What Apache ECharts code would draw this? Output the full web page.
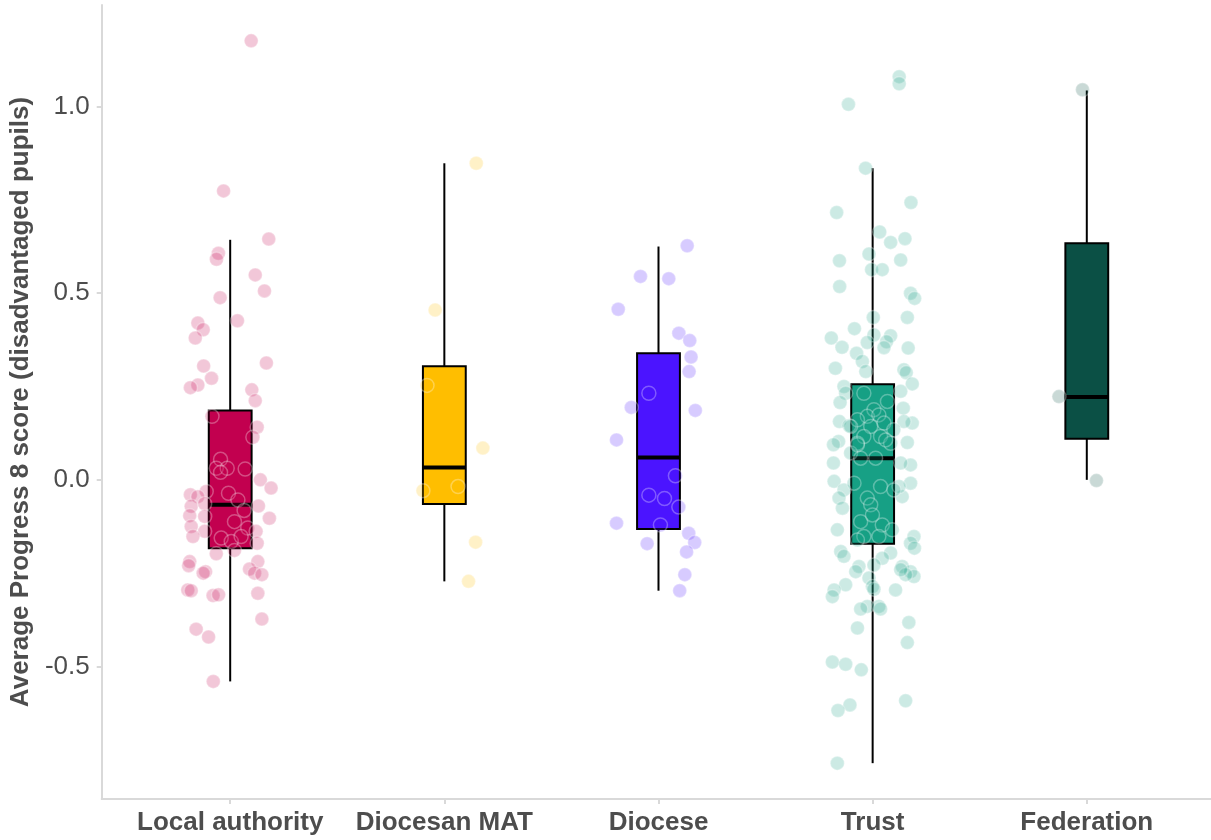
<!DOCTYPE html>
<html>
<head>
<meta charset="utf-8">
<title>Average Progress 8 score by school governance</title>
<script src="https://cdn.jsdelivr.net/npm/echarts@6/dist/echarts.min.js"></script>
<style>
  html, body { margin: 0; padding: 0; background: #ffffff; }
  #chart { width: 1211px; height: 840px; }
</style>
</head>
<body>
<div id="chart"></div>
<script>
// Governance groups along the x axis
const categories = ['Local authority', 'Diocesan MAT', 'Diocese', 'Trust', 'Federation'];

// Y axis tick values
const yTicks = [-0.5, 0, 0.5, 1.0];

// Box statistics per group: [lower whisker, Q1, median, Q3, upper whisker]
const boxLocalAuthority = [-0.540, -0.183, -0.067, 0.186, 0.643];
const boxDiocesanMAT   = [-0.272, -0.065, 0.033, 0.304, 0.848];
const boxDiocese       = [-0.297, -0.132, 0.060, 0.339, 0.625];
const boxTrust         = [-0.759, -0.171, 0.058, 0.256, 0.835];
const boxFederation    = [0.000, 0.110, 0.222, 0.634, 1.043];

// School scores per group, each as [horizontal jitter, score]
const pointsLocalAuthority = [
  [0.098, 1.176], [-0.031, 0.774], [0.180, 0.645], [-0.055, 0.607], [-0.064, 0.591],
  [0.117, 0.549], [0.160, 0.506], [-0.047, 0.488], [0.034, 0.426], [-0.151, 0.420],
  [-0.126, 0.402], [-0.163, 0.380], [0.169, 0.313], [-0.124, 0.305], [-0.087, 0.272],
  [-0.151, 0.254], [-0.186, 0.247], [0.101, 0.241], [0.117, 0.212], [-0.085, 0.170],
  [0.126, 0.141], [0.106, 0.114], [-0.045, 0.055], [-0.065, 0.031], [-0.014, 0.031],
  [0.070, 0.029], [-0.045, 0.020], [0.141, 0.000], [0.191, -0.022], [-0.186, -0.040],
  [-0.112, -0.031], [-0.008, -0.036], [-0.151, -0.045], [0.036, -0.054], [-0.182, -0.071],
  [-0.119, -0.064], [0.132, -0.070], [0.065, -0.082], [-0.189, -0.096], [-0.119, -0.098],
  [0.020, -0.112], [0.183, -0.103], [-0.182, -0.125], [0.082, -0.129], [-0.119, -0.138],
  [-0.174, -0.152], [-0.042, -0.156], [0.005, -0.165], [0.051, -0.152], [0.121, -0.138],
  [0.126, -0.170], [-0.065, -0.198], [0.020, -0.189], [0.129, -0.219], [-0.189, -0.219],
  [-0.194, -0.230], [-0.115, -0.246], [-0.126, -0.250], [0.090, -0.239], [0.114, -0.250],
  [0.148, -0.254], [-0.198, -0.295], [-0.182, -0.297], [-0.080, -0.310], [-0.054, -0.308],
  [0.129, -0.304], [0.148, -0.373], [-0.159, -0.400], [-0.101, -0.421], [-0.079, -0.540]
];

const pointsDiocesanMAT = [
  [0.149, 0.848], [-0.043, 0.455], [-0.081, 0.253], [0.180, 0.085],
  [-0.100, -0.029], [0.064, -0.018], [0.146, -0.167], [0.113, -0.272]
];

const pointsDiocese = [
  [0.134, 0.627], [-0.084, 0.545], [0.048, 0.539], [-0.188, 0.457], [0.095, 0.393],
  [0.146, 0.373], [0.152, 0.329], [0.143, 0.290], [-0.045, 0.232], [-0.127, 0.194],
  [0.172, 0.186], [-0.196, 0.107], [0.079, 0.011], [-0.045, -0.041], [0.028, -0.050],
  [0.095, -0.073], [-0.196, -0.116], [0.009, -0.121], [0.141, -0.143], [-0.053, -0.171],
  [0.169, -0.168], [0.131, -0.193], [0.123, -0.254], [0.099, -0.297]
];

const pointsTrust = [
  [0.124, 1.080], [0.124, 1.061], [-0.113, 1.006], [-0.033, 0.835], [0.179, 0.743],
  [-0.168, 0.716], [0.033, 0.664], [0.151, 0.646], [0.084, 0.636], [-0.155, 0.587],
  [-0.017, 0.605], [0.131, 0.589], [-0.005, 0.563], [0.045, 0.563], [-0.154, 0.518],
  [0.177, 0.500], [0.196, 0.486], [0.003, 0.435], [0.162, 0.435], [-0.085, 0.405],
  [-0.193, 0.380], [0.006, 0.388], [0.084, 0.386], [0.065, 0.370], [-0.025, 0.368],
  [-0.143, 0.355], [0.053, 0.354], [0.166, 0.353], [-0.075, 0.339], [-0.048, 0.317],
  [-0.174, 0.299], [-0.032, 0.290], [0.146, 0.295], [0.157, 0.287], [0.185, 0.257],
  [-0.134, 0.250], [-0.126, 0.232], [0.131, 0.237], [-0.152, 0.207], [0.143, 0.192],
  [-0.155, 0.156], [0.185, 0.152], [0.146, 0.156], [-0.110, 0.145], [-0.159, 0.103],
  [-0.183, 0.094], [0.162, 0.100],
  [-0.041, 0.232], [0.069, 0.210], [0.006, 0.188], [-0.025, 0.170], [0.029, 0.174],
  [-0.071, 0.161], [0.053, 0.152], [-0.009, 0.143], [-0.103, 0.143], [0.099, 0.134],
  [-0.041, 0.116], [0.037, 0.116], [-0.071, 0.098], [0.084, 0.098], [-0.103, 0.072],
  [-0.183, 0.045], [-0.180, -0.004], [-0.134, -0.027], [-0.157, -0.049], [-0.141, -0.076],
  [-0.165, -0.134], [-0.149, -0.192], [-0.134, -0.205], [-0.064, -0.232], [-0.079, -0.246],
  [-0.126, -0.281], [-0.180, -0.295], [-0.188, -0.313], [-0.017, -0.263], [-0.001, -0.286],
  [-0.025, -0.339], [0.029, -0.339],
  [0.177, 0.040], [0.131, 0.045], [0.177, -0.009], [0.138, -0.045], [0.123, -0.018],
  [0.193, -0.152], [0.177, -0.170], [0.195, -0.183], [0.138, -0.232], [0.177, -0.246],
  [0.193, -0.259], [0.154, -0.254], [0.107, -0.295], [0.084, -0.196], [0.045, -0.210],
  [0.006, -0.228], [0.131, -0.241],
  [-0.071, 0.094], [0.061, 0.107], [0.014, 0.058], [-0.056, 0.058], [-0.087, -0.009],
  [0.037, -0.018], [0.099, -0.027], [-0.025, -0.049], [-0.009, -0.067], [-0.056, -0.112],
  [0.045, -0.121], [-0.001, -0.094], [0.092, -0.134], [-0.041, -0.152], [0.029, -0.152],
  [-0.071, -0.161],
  [-0.056, -0.346], [0.037, -0.346], [0.169, -0.382], [-0.071, -0.397], [0.162, -0.436],
  [-0.188, -0.488], [-0.126, -0.494], [-0.053, -0.509], [0.154, -0.592], [-0.106, -0.603],
  [-0.162, -0.618], [-0.165, -0.759], [0.006, -0.293]
];

const pointsFederation = [
  [-0.020, 1.045], [-0.130, 0.223], [0.045, -0.002]
];

// Group fill colours
const groupColors = ['#C2004F', '#FFBE00', '#4B14FF', '#17A085', '#0B5045'];

const boxes = [boxLocalAuthority, boxDiocesanMAT, boxDiocese, boxTrust, boxFederation];
const pointSets = [pointsLocalAuthority, pointsDiocesanMAT, pointsDiocese, pointsTrust, pointsFederation];

const FONT = "'Liberation Sans', Arial, Helvetica, sans-serif";
const TEXT_GREY = '#4d4d4d';
const AXIS_GREY = '#d9d9d9';
const BOX_HALF_WIDTH = 0.1;   // half box width, in category units

function hexToRgba(hex, a) {
  const n = parseInt(hex.slice(1), 16);
  return 'rgba(' + ((n >> 16) & 255) + ',' + ((n >> 8) & 255) + ',' + (n & 255) + ',' + a + ')';
}

// Box and whisker drawn through the cartesian coordinate system
function renderBox(params, api) {
  const x = api.value(0);
  const pLow = api.coord([x, api.value(1)]);
  const pQ1 = api.coord([x, api.value(2)]);
  const pMed = api.coord([x, api.value(3)]);
  const pQ3 = api.coord([x, api.value(4)]);
  const pHigh = api.coord([x, api.value(5)]);
  const left = api.coord([x - BOX_HALF_WIDTH, 0])[0];
  const right = api.coord([x + BOX_HALF_WIDTH, 0])[0];
  const color = groupColors[params.dataIndex];
  const black = '#000000';
  return {
    type: 'group',
    children: [
      { type: 'line', shape: { x1: pHigh[0], y1: pHigh[1], x2: pQ3[0], y2: pQ3[1] },
        style: { stroke: black, lineWidth: 2 } },
      { type: 'line', shape: { x1: pQ1[0], y1: pQ1[1], x2: pLow[0], y2: pLow[1] },
        style: { stroke: black, lineWidth: 2 } },
      { type: 'rect', shape: { x: left, y: pQ3[1], width: right - left, height: pQ1[1] - pQ3[1] },
        style: { fill: color, stroke: black, lineWidth: 2 } },
      { type: 'line', shape: { x1: left, y1: pMed[1], x2: right, y2: pMed[1] },
        style: { stroke: black, lineWidth: 4 } }
    ]
  };
}

const boxData = boxes.map((b, i) => [i + 1].concat(b));

const scatterSeries = pointSets.map((pts, i) => ({
  type: 'scatter',
  name: categories[i],
  z: 5,
  symbol: 'circle',
  symbolSize: 14,
  silent: true,
  itemStyle: {
    color: hexToRgba(groupColors[i], 0.22),
    borderColor: 'rgba(255,255,255,0.3)',
    borderWidth: 1.5,
    opacity: 1
  },
  data: pts.map(p => [i + 1 + p[0], p[1]])
}));

const chart = echarts.init(document.getElementById('chart'), null, { renderer: 'canvas' });

chart.setOption({
  animation: false,
  backgroundColor: '#ffffff',
  grid: { left: 100, right: 0, top: 5, bottom: 41, containLabel: false },
  xAxis: {
    type: 'value',
    min: 0.4,
    max: 5.58,
    splitLine: { show: false },
    axisLine: { show: true, onZero: false, lineStyle: { color: AXIS_GREY, width: 2 } },
    axisTick: { show: true, customValues: [1, 2, 3, 4, 5], length: 5, lineStyle: { color: AXIS_GREY, width: 2 } },
    axisLabel: {
      customValues: [1, 2, 3, 4, 5],
      formatter: v => categories[Math.round(v) - 1],
      fontFamily: FONT, fontWeight: 'bold', fontSize: 26, color: TEXT_GREY, margin: 11
    }
  },
  yAxis: {
    type: 'value',
    min: -0.855,
    max: 1.272,
    name: 'Average Progress 8 score (disadvantaged pupils)',
    nameLocation: 'middle',
    nameGap: 63,
    nameTextStyle: { fontFamily: FONT, fontWeight: 'bold', fontSize: 26, color: TEXT_GREY },
    splitLine: { show: false },
    axisLine: { show: true, onZero: false, lineStyle: { color: AXIS_GREY, width: 2 } },
    axisTick: { show: true, customValues: yTicks, length: 5, lineStyle: { color: AXIS_GREY, width: 2 } },
    axisLabel: {
      customValues: yTicks,
      formatter: v => v.toFixed(1),
      fontFamily: FONT, fontSize: 26, color: TEXT_GREY, margin: 12
    }
  },
  series: [
    {
      type: 'custom',
      name: 'boxes',
      z: 2,
      silent: true,
      renderItem: renderBox,
      encode: { x: 0, y: [1, 2, 3, 4, 5] },
      data: boxData
    }
  ].concat(scatterSeries)
});
</script>
</body>
</html>
